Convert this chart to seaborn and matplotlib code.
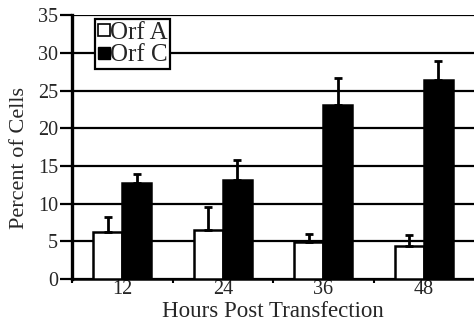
import matplotlib
matplotlib.use("Agg")
import matplotlib.pyplot as plt
import seaborn as sns
import pandas as pd
import numpy as np
from matplotlib.lines import Line2D

hours = ["12", "24", "36", "48"]
orf_a = [6.2, 6.5, 4.9, 4.4]
orf_a_err = [2.0, 3.0, 1.1, 1.5]
orf_c = [12.8, 13.2, 23.1, 26.4]
orf_c_err = [1.2, 2.6, 3.6, 2.6]
series = ["Orf A", "Orf C"]
y_ticks = [0, 5, 10, 15, 20, 25, 30, 35]

df = pd.DataFrame({
    "Hours": hours * 2,
    "Percent": orf_a + orf_c,
    "Series": [series[0]] * 4 + [series[1]] * 4,
})

sns.set_style("white")
plt.rcParams["font.family"] = ["Liberation Serif", "DejaVu Serif"]

fig = plt.figure(figsize=(4.74, 3.23), dpi=100)
ax = fig.add_axes([72 / 474, 1 - 279 / 323, 1 - 72 / 474, (279 - 15) / 323])

sns.barplot(data=df, x="Hours", y="Percent", hue="Series", order=hours,
            hue_order=series, palette=["white", "black"], width=0.58,
            edgecolor="black", linewidth=1.8, errorbar=None, ax=ax,
            legend=False, zorder=3)

# error bars from bar positions
patches = [p for p in ax.patches if p.get_height() > 0]
patches = sorted(patches, key=lambda p: p.get_x())
vals = []
errs = []
for i in range(4):
    vals += [orf_a[i], orf_c[i]]
    errs += [orf_a_err[i], orf_c_err[i]]
for p, v, e in zip(patches, vals, errs):
    xc = p.get_x() + p.get_width() / 2
    ax.errorbar([xc], [v], yerr=[[0], [e]], fmt="none", ecolor="black",
                elinewidth=2.0, capsize=3, capthick=2.0, zorder=4)

ax.set_ylim(0, 35.05)
ax.set_xlim(-0.5, 3.5)
ax.set_yticks(y_ticks)
ax.set_yticklabels([str(t) for t in y_ticks], fontsize=14.5)
ax.yaxis.grid(True, color="black", linewidth=1.6)
ax.set_axisbelow(True)
ax.tick_params(axis="y", which="major", direction="out", length=9, width=1.6,
               color="black", left=True, pad=1)
ax.set_xticks(range(4))
ax.set_xticklabels(hours, fontsize=14.5)
ax.set_xticks([-0.5, 0.5, 1.5, 2.5], minor=True)
ax.tick_params(axis="x", which="major", length=0, pad=1)
ax.tick_params(axis="x", which="minor", direction="out", length=3, width=1.5,
               color="black", bottom=True)

for s in ["top", "right"]:
    ax.spines[s].set_visible(False)
ax.spines["left"].set_linewidth(2.4)
ax.spines["left"].set_color("black")
ax.spines["bottom"].set_linewidth(1.8)
ax.spines["bottom"].set_color("black")

ax.set_xlabel("Hours Post Transfection", fontsize=16.5, labelpad=1)
ax.set_ylabel("Percent of Cells", fontsize=16)
ax.yaxis.set_label_coords(-0.108, 0.46)

handles = [
    Line2D([], [], marker="s", linestyle="none", markerfacecolor="white",
           markeredgecolor="black", markersize=8, markeredgewidth=1.2),
    Line2D([], [], marker="s", linestyle="none", markerfacecolor="black",
           markeredgecolor="black", markersize=8),
]
leg = ax.legend(handles, series, loc="upper left", bbox_to_anchor=(0.057, 0.985),
                fontsize=18, frameon=True, fancybox=False, framealpha=1,
                handlelength=0.5, handletextpad=0.0, borderpad=0.1,
                labelspacing=0.0, borderaxespad=0)
leg.get_frame().set_edgecolor("black")
leg.get_frame().set_linewidth(1.6)
leg.set_zorder(10)

fig.savefig("out.png", dpi=100)
